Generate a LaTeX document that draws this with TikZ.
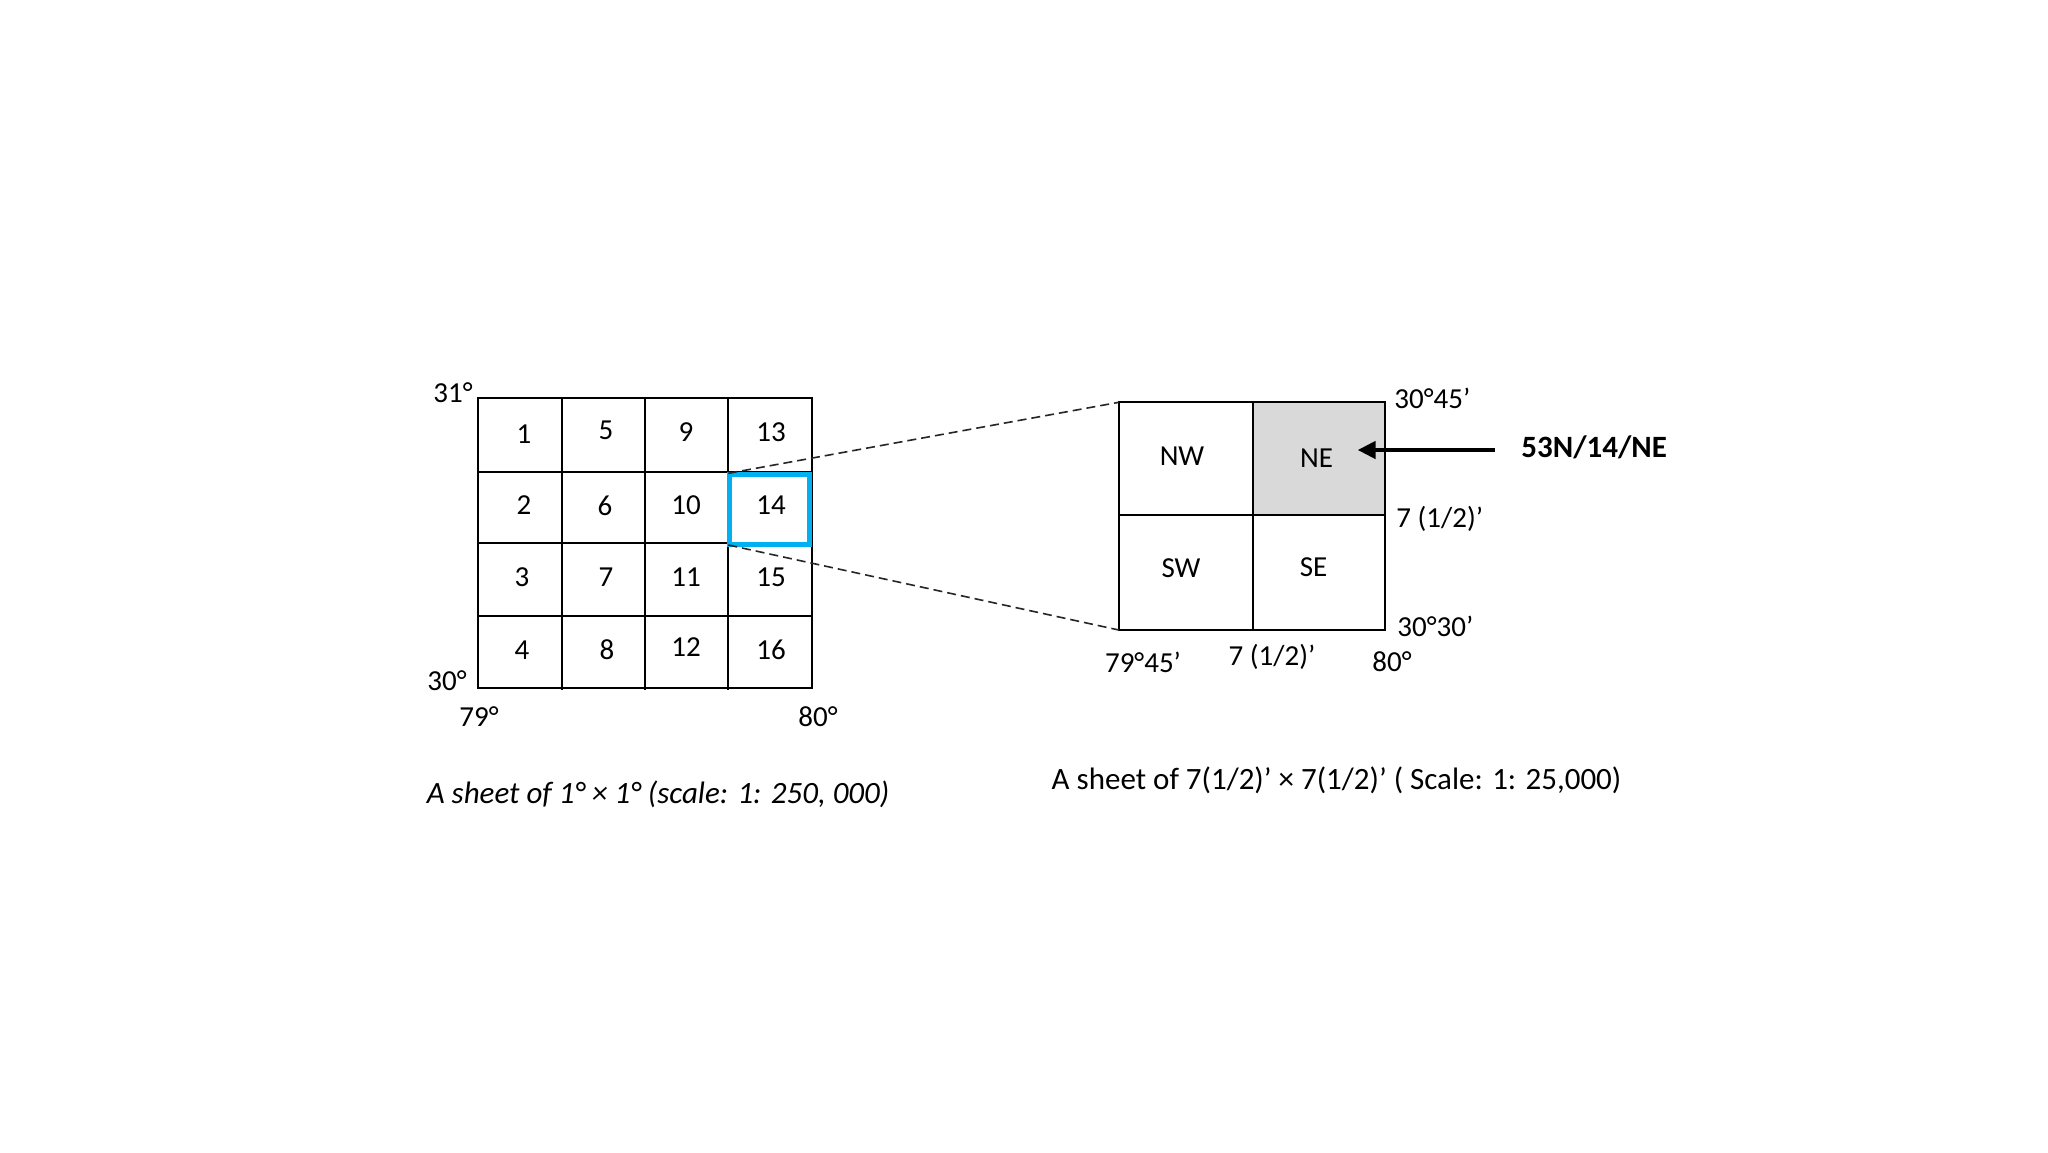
\documentclass[tikz,border=0pt]{standalone}
\usepackage{fontspec}
\setmainfont{Carlito}
\usetikzlibrary{arrows.meta}
\definecolor{cellblue}{RGB}{0,176,240}
\definecolor{negrey}{RGB}{217,217,217}
\tikzset{
  lbl/.style={inner sep=0pt, font=\fontsize{14.5}{17}\selectfont},
  gridline/.style={line width=1pt, black},
  zoomline/.style={line width=0.8pt, black!85, dash pattern=on 4.5pt off 2.5pt},
  pointer/.style={line width=2.2pt, -{Triangle[length=9pt,width=8.5pt]}},
  caption/.style={inner sep=0pt, font=\fontsize{15.5}{18}\selectfont}
}
\begin{document}
\begin{tikzpicture}[x=0.5pt,y=-0.5pt]
\useasboundingbox[fill=white] (0,0) rectangle (2048,1152);

% ---- left 1x1 degree sheet ----
\draw[gridline] (478.3,397.7) rectangle (811.7,687.7);
\foreach \xx in {561.7,645,728.3} \draw[gridline] (\xx,397.7) -- (\xx,689.5);
\foreach \yy in {472.3,542.7,615.7} \draw[gridline] (478.3,\yy) -- (811.7,\yy);

\node[lbl] (c1)  at (524,434) {1};
\node[lbl] (c5)  at (606,430) {5};
\node[lbl] (c9)  at (686,432) {9};
\node[lbl] (c13) at (771,432) {13};
\node[lbl] (c2)  at (524,505) {2};
\node[lbl] (c6)  at (605,506) {6};
\node[lbl] (c10) at (686,505) {10};
\node[lbl] (c14) at (771,505) {14};
\node[lbl] (c3)  at (522,577) {3};
\node[lbl] (c7)  at (606,577) {7};
\node[lbl] (c11) at (686,577) {11};
\node[lbl] (c15) at (771,577) {15};
\node[lbl] (c4)  at (522,650) {4};
\node[lbl] (c8)  at (607,650) {8};
\node[lbl] (c12) at (686,647) {12};
\node[lbl] (c16) at (771,650) {16};

% highlighted sheet 14
\draw[cellblue, line width=2.5pt] (729.2,474.8) rectangle (809.8,544.2);
\coordinate (bTL) at (728.3,473.3);
\coordinate (bBL) at (728.3,545);

\node[lbl] (n31) at (453,393) {31°};
\node[lbl] (n30) at (447,681) {30°};
\node[lbl] (n79) at (479,717) {79°};
\node[lbl] (n80) at (818,717) {80°};

% ---- right 7.5' sheet ----
\fill[negrey] (1253,402.3) rectangle (1385.3,515);
\draw[gridline] (1118.8,402.3) rectangle (1385.3,630);
\draw[gridline] (1253,402.3) -- (1253,630);
\draw[gridline] (1118.8,515) -- (1385.3,515);
\coordinate (sTL) at (1118.8,402.3);
\coordinate (sBL) at (1118.8,630);

\node[lbl] (nw) at (1182,456) {NW};
\node[lbl] (ne) at (1316.5,458) {NE};
\node[lbl] (sw) at (1181,568) {SW};
\node[lbl] (se) at (1313.5,567) {SE};

\node[lbl, anchor=west] (l3045) at (1394,398) {30°45’};
\node[lbl, anchor=west] (lhalf) at (1396,519) {7 (1/2)’};
\node[lbl, anchor=west] (l3030) at (1397,626) {30°30’};
\node[lbl] (l7945) at (1143,662) {79°45’};
\node[lbl] (bhalf) at (1272,657) {7 (1/2)’};
\node[lbl] (l80)   at (1392,662) {80°};

% zoom connectors
\draw[zoomline] (bTL) -- (sTL);
\draw[zoomline] (bBL) -- (sBL);

% pointer
\node[lbl, anchor=west, font=\fontsize{15.5}{18}\selectfont\bfseries] (code) at (1521,447) {53N/14/NE};
\coordinate (tip) at (1357.6,450);
\draw[pointer] (1495,450) -- (tip);

% captions
\node[caption, font=\fontsize{15.5}{18}\selectfont\itshape] (capL) at (658,794) {A sheet of 1° × 1° (scale: 1: 250, 000)};
\node[caption] (capR) at (1336.5,780) {A sheet of 7(1/2)’ × 7(1/2)’ ( Scale: 1: 25,000)};
\end{tikzpicture}
\end{document}
